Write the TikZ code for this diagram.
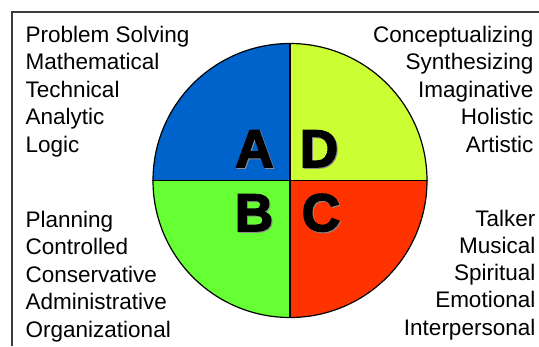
\documentclass[tikz,border=0pt]{standalone}
\usepackage{fontspec}
\setmainfont{Liberation Sans}
\newfontfamily\heavyfont[FakeBold=3]{Liberation Sans Bold}
\definecolor{qa}{RGB}{0,99,204}
\definecolor{qd}{RGB}{204,255,51}
\definecolor{qb}{RGB}{102,255,51}
\definecolor{qc}{RGB}{255,51,0}
\definecolor{framegray}{RGB}{60,60,60}
\begin{document}
\begin{tikzpicture}[x=1pt,y=-1pt,
  lbl/.style={font=\fontsize{22.5}{27}\selectfont, inner sep=0pt},
  bigletter/.style={font=\heavyfont\fontsize{53}{53}\selectfont, inner sep=0pt, anchor=base},
  shadowletter/.style={bigletter, text=black!45},
  sector/.style={draw=none}]
\useasboundingbox (0,0) rectangle (539,346);
\fill[white] (0,0) rectangle (539,346);
% frame (cut by the picture's right and bottom edges)
\coordinate (fr0) at (12,346);
\coordinate (fr1) at (12,12);
\coordinate (fr2) at (539,12);
\draw[framegray, line width=1.3pt] (fr0) -- (fr1) -- (fr2);
% circle
\coordinate (c) at (290,180.5);
\fill[qa] (c) -- ++(180:137) arc[start angle=180,end angle=270,radius=137] -- cycle;
\fill[qd] (c) -- ++(270:137) arc[start angle=270,end angle=360,radius=137] -- cycle;
\fill[qc] (c) -- ++(0:137) arc[start angle=0,end angle=90,radius=137] -- cycle;
\fill[qb] (c) -- ++(90:137) arc[start angle=90,end angle=180,radius=137] -- cycle;
\node[circle, draw=black, line width=1.2pt, minimum size=274pt, inner sep=0pt] (circ) at (c) {};
\draw[line width=1.2pt] (circ.north) -- (circ.south);
\draw[line width=1.2pt] (circ.west) -- (circ.east);
% letters
\node[shadowletter] (sA) at (255.5,168) {A};
\node[shadowletter] (sD) at (320,168) {D};
\node[shadowletter] (sB) at (255,232) {B};
\node[shadowletter] (sC) at (322,232) {C};
\node[bigletter] (lA) at (254.5,167) {A};
\node[bigletter] (lD) at (319,167) {D};
\node[bigletter] (lB) at (254,231) {B};
\node[bigletter] (lC) at (321,231) {C};
% texts
\foreach \t [count=\i] in {Problem Solving,Mathematical,Technical,Analytic,Logic}
  \node[lbl, anchor=base west] (tl\i) at (25.5,{42+27.5*(\i-1)}) {\t};
\foreach \t [count=\i] in {Planning,Controlled,Conservative,Administrative,Organizational}
  \node[lbl, anchor=base west] (bl\i) at (25.5,{227.5+27.4*(\i-1)}) {\t};
\foreach \t [count=\i] in {Conceptualizing,Synthesizing,Imaginative,Holistic,Artistic}
  \node[lbl, anchor=base east] (tr\i) at (533.5,{42+27.5*(\i-1)}) {\t};
\foreach \t [count=\i] in {Talker,Musical,Spiritual,Emotional,Interpersonal}
  \node[lbl, anchor=base east] (br\i) at (535.5,{226+27.3*(\i-1)}) {\t};
\end{tikzpicture}
\end{document}
